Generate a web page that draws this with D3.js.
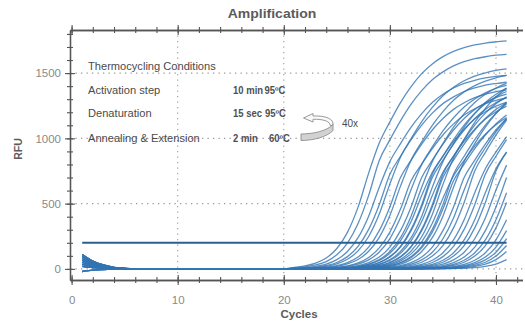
<!DOCTYPE html>
<html>
<head>
<meta charset="utf-8">
<script src="https://cdn.jsdelivr.net/npm/d3@7"></script>
<style>
  body { margin: 0; background: #fff; }
  text { font-family: "Liberation Sans", Arial, sans-serif; }
</style>
</head>
<body>
<div id="chart"></div>
<script>
// cycles 1..41, curves are read from cycle 21 on (baseline ~0 from cycle 6 to 20)
const cycles = d3.range(1, 42);
const xTicks = [0, 10, 20, 30, 40];
const yTicks = [0, 500, 1000, 1500];
const threshold = 200;

// start-of-run noise, cycles 1..5
const startNoise = [
  [110, 60, 30, 12, 4],
  [95, 50, 24, 10, 3],
  [80, 42, 20, 8, 2],
  [65, 34, 16, 6, 2],
  [50, 26, 12, 5, 1],
  [35, 18, 8, 3, 1],
  [20, 10, 5, 2, 0],
  [-20, -10, -5, -2, 0]
];

// RFU per well, cycles 21..41
const rfuByWell = [
  [12,23,44,83,156,280,473,734,964,1126,1274,1396,1496,1570,1626,1667,1695,1716,1730,1739,1746],
  [8,15,30,56,108,198,347,563,830,988,1134,1262,1366,1449,1509,1555,1587,1610,1625,1637,1643],
  [5,10,20,37,71,133,239,404,626,822,960,1086,1190,1275,1338,1386,1421,1445,1463,1475,1482],
  [4,7,13,26,49,94,173,303,492,725,863,990,1102,1193,1266,1318,1359,1386,1407,1420,1430],
  [3,5,10,20,39,74,138,248,420,651,855,998,1129,1237,1326,1392,1441,1477,1502,1521,1533],
  [2,4,7,13,25,48,91,167,293,475,700,833,956,1064,1152,1222,1273,1312,1338,1358,1371],
  [1,3,5,10,20,38,72,135,242,409,634,833,973,1100,1205,1292,1356,1404,1439,1464,1482],
  [1,2,3,6,13,24,46,88,161,282,458,675,803,922,1026,1111,1179,1227,1265,1291,1310],
  [0,1,3,5,10,19,36,69,129,232,393,609,800,934,1057,1158,1241,1302,1349,1383,1406],
  [0,1,2,4,7,13,25,48,91,167,293,475,700,833,956,1064,1152,1222,1273,1312,1338],
  [0,1,1,3,5,10,20,37,71,133,239,404,626,822,960,1086,1190,1275,1338,1386,1421],
  [0,0,1,2,5,9,18,34,64,119,215,363,563,740,864,977,1071,1148,1204,1247,1278],
  [0,1,1,2,4,7,13,26,49,94,173,303,492,725,863,990,1102,1193,1266,1318,1359],
  [0,0,1,2,4,7,13,25,48,91,167,293,475,700,833,956,1064,1152,1222,1273,1312],
  [0,0,1,1,3,5,10,20,37,71,133,239,404,626,822,960,1086,1190,1275,1338,1386],
  [0,0,0,1,2,5,9,18,34,64,119,215,363,563,740,864,977,1071,1148,1204,1247],
  [0,0,1,1,2,4,7,13,26,49,94,173,303,492,725,863,990,1102,1193,1266,1318],
  [0,0,0,1,2,4,7,13,25,48,91,167,293,475,700,833,956,1064,1152,1222,1273],
  [0,0,0,1,1,3,5,10,20,39,73,137,246,417,646,849,992,1122,1229,1318,1383],
  [0,0,0,0,1,2,5,9,17,32,62,115,207,350,542,712,832,941,1031,1105,1160],
  [0,0,0,0,1,2,4,7,13,26,49,94,173,303,492,725,863,990,1102,1193,1266],
  [0,0,0,0,1,2,3,6,13,24,46,88,161,282,458,675,803,922,1026,1111,1179],
  [0,0,0,0,1,1,3,5,10,20,37,71,133,239,404,626,822,960,1086,1190,1275],
  [0,0,0,0,0,1,2,4,7,13,25,48,91,167,293,475,700,833,956,1064,1152],
  [0,0,0,0,0,0,1,3,5,10,19,36,69,128,231,390,605,795,928,1050,1150],
  [0,0,0,0,0,0,1,2,4,7,14,27,51,98,179,314,509,750,893,1025,1140],
  [0,0,0,0,0,0,0,1,3,5,9,18,35,66,124,223,377,584,767,896,1014],
  [0,0,0,0,0,0,0,1,2,4,7,13,26,49,94,173,303,492,725,863,990],
  [0,0,0,0,0,0,0,0,1,3,5,9,18,35,66,124,223,377,584,767,896],
  [0,0,0,0,0,0,0,0,1,2,4,7,14,27,51,98,179,314,509,750,893],
  [0,0,0,0,0,0,0,0,0,1,3,5,10,19,36,69,128,231,390,605,795],
  [0,0,0,0,0,0,0,0,0,1,2,4,7,13,25,48,91,167,293,475,700],
  [0,0,0,0,0,0,0,0,0,0,1,3,5,9,18,35,66,124,223,377,584],
  [0,0,0,0,0,0,0,0,0,0,1,2,4,7,14,27,51,98,179,314,509],
  [0,0,0,0,0,0,0,0,0,0,0,1,3,5,9,18,35,66,124,223,377],
  [0,0,0,0,0,0,0,0,0,0,0,1,2,4,7,13,25,48,91,167,293],
  [0,0,0,0,0,0,0,0,0,0,0,0,1,3,5,10,19,36,69,128,231],
  [0,0,0,0,0,0,0,0,0,0,0,0,1,2,4,7,14,27,51,98,179],
  [0,0,0,0,0,0,0,0,0,0,0,0,0,1,3,5,10,20,37,71,133],
  [0,0,0,0,0,0,0,0,0,0,0,0,0,0,1,3,5,10,20,37,71]
];

const condTitle = 'Thermocycling Conditions';
const condSteps = ['Activation step', 'Denaturation', 'Annealing & Extension'];
const condTimes = ['10 min', '15 sec', '2 min'];
const condTemps = ['95ºC', '95ºC', '60ºC'];
const repeatLabel = '40x';

const width = 525, height = 321;
const svg = d3.select('#chart').append('svg')
  .attr('width', width).attr('height', height);

const x = d3.scaleLinear().domain([-0.15, 42.5]).range([70, 522.5]);
const y = d3.scaleLinear().domain([-85, 1830]).range([280, 30]);

const axisColor = '#555';
const labelColor = '#8a8a8a';

// dotted grid
const grid = svg.append('g').attr('stroke', '#9a9a9a').attr('stroke-width', 1.1)
  .attr('stroke-dasharray', '1.3,4.2');
grid.selectAll('line.v').data(xTicks.slice(1)).enter().append('line')
  .attr('x1', d => x(d)).attr('x2', d => x(d)).attr('y1', 30).attr('y2', 280);
grid.selectAll('line.h').data(yTicks).enter().append('line')
  .attr('x1', 70).attr('x2', width).attr('y1', d => y(d)).attr('y2', d => y(d));

// curves
const series = rfuByWell.map((well, i) => cycles.map(c => ({
  c: c,
  v: c <= 5 ? startNoise[i % startNoise.length][c - 1] : (c < 21 ? 0 : well[c - 21])
})));

const line = d3.line().x(d => x(d.c)).y(d => y(d.v)).curve(d3.curveMonotoneX);

svg.append('g').selectAll('path').data(series).enter().append('path')
  .attr('d', line).attr('fill', 'none')
  .attr('stroke', '#3274b3').attr('stroke-opacity', 0.8).attr('stroke-width', 1.3);

// threshold
svg.append('line')
  .attr('x1', x(1)).attr('x2', x(41)).attr('y1', y(threshold)).attr('y2', y(threshold))
  .attr('stroke', '#2a5f91').attr('stroke-width', 2);

// axes
function crossTicks(g, horiz, size) {
  g.selectAll('.tick line').attr(horiz ? 'x1' : 'y1', size);
}

const leftMinor = svg.append('g').attr('transform', 'translate(70,0)')
  .call(d3.axisLeft(y).tickValues(d3.range(0, 1900, 100)).tickFormat('').tickSize(3).tickSizeOuter(0));
crossTicks(leftMinor, true, 3);
const left = svg.append('g').attr('transform', 'translate(70,0)')
  .call(d3.axisLeft(y).tickValues(yTicks).tickFormat(d3.format('d')).tickSize(5).tickPadding(4).tickSizeOuter(0));
crossTicks(left, true, 5);

const bottomMinor = svg.append('g').attr('transform', 'translate(0,280)')
  .call(d3.axisBottom(x).tickValues(d3.range(0, 43, 2)).tickFormat('').tickSize(3).tickSizeOuter(0));
crossTicks(bottomMinor, false, -3);
const bottom = svg.append('g').attr('transform', 'translate(0,280)')
  .call(d3.axisBottom(x).tickValues(xTicks).tickSize(5).tickPadding(11).tickSizeOuter(0));
crossTicks(bottom, false, -5);

const topMinor = svg.append('g').attr('transform', 'translate(0,30)')
  .call(d3.axisTop(x).tickValues(d3.range(0, 43, 2)).tickFormat('').tickSize(3).tickSizeOuter(0));
crossTicks(topMinor, false, 3);
const topMajor = svg.append('g').attr('transform', 'translate(0,30)')
  .call(d3.axisTop(x).tickValues(xTicks).tickFormat('').tickSize(5).tickSizeOuter(0));
crossTicks(topMajor, false, 5);

svg.selectAll('.domain').attr('stroke', axisColor).attr('stroke-width', 1.3);
svg.selectAll('.tick line').attr('stroke', axisColor).attr('stroke-width', 1.1);
svg.selectAll('.tick text')
  .attr('fill', labelColor).attr('font-size', 11.5)
  .attr('font-family', '"Liberation Sans", Arial, sans-serif');

function label(str, px, py, opts) {
  const o = Object.assign({ size: 11, weight: 'normal', fill: '#4a4a4a', anchor: 'start', sx: 1, rotate: 0 }, opts);
  return svg.append('text')
    .attr('transform', `translate(${px},${py}) rotate(${o.rotate}) scale(${o.sx},1)`)
    .attr('font-size', o.size).attr('font-weight', o.weight)
    .attr('fill', o.fill).attr('text-anchor', o.anchor).text(str);
}

label('Amplification', 272, 18, { size: 12.5, weight: 'bold', fill: '#5b5b5b', anchor: 'middle', sx: 1.12 });
label('Cycles', 299, 318, { size: 11, weight: 'bold', fill: '#5b5b5b', anchor: 'middle', sx: 1.05 });
label('RFU', 22, 149, { size: 10.5, weight: 'bold', fill: '#5b5b5b', anchor: 'middle', rotate: -90 });

// conditions box
const rowY = [90, 113, 138];
label(condTitle, 88, 70, { size: 10.5, sx: 1.06 });
condSteps.forEach((s, i) => label(s, 88, rowY[i] + 4, { size: 10.5, sx: 1.06 }));
condTimes.forEach((s, i) => label(s, 233, rowY[i] + 4, { size: 10, weight: 'bold', fill: '#505050', sx: 0.95 }));
const tempX = [264.5, 265, 269];
condTemps.forEach((s, i) => label(s, tempX[i], rowY[i] + 4, { size: 10, weight: 'bold', fill: '#505050', sx: 0.95 }));
label(repeatLabel, 342, 127, { size: 10 });

// curved repeat arrow
const arrow = svg.append('g').attr('stroke', '#8d8d8d').attr('stroke-width', 0.9).attr('stroke-linejoin', 'round');
arrow.append('path')
  .attr('d', 'M333,125 C334,119 326,115.5 313,116 L313,113.5 L303.5,118 L313,122 L313,119.3 C323,119 330,121 330.5,126 Z')
  .attr('fill', '#fafafa');
arrow.append('path')
  .attr('d', 'M301,134 L301,140.5 C313,140.5 327,137 333,130.5 L333,124.5 C327,131 313,134 301,134 Z')
  .attr('fill', '#d2d2d2');
</script>
</body>
</html>
